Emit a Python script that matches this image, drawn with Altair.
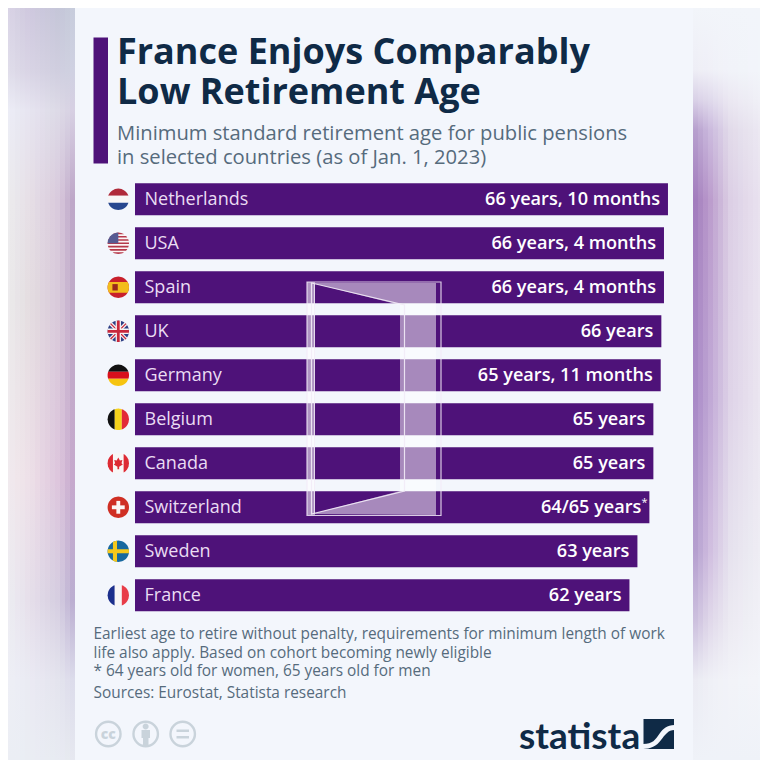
import math
import altair as alt
import pandas as pd

# ---------- chart data ----------
countries = ["Netherlands", "USA", "Spain", "UK", "Germany", "Belgium", "Canada",
             "Switzerland", "Sweden", "France"]
ages = [66.83, 66.33, 66.33, 66.0, 65.92, 65.0, 65.0, 64.5, 63.0, 62.0]
labels = ["66 years, 10 months", "66 years, 4 months", "66 years, 4 months", "66 years",
          "65 years, 11 months", "65 years", "65 years", "64/65 years", "63 years", "62 years"]

title_lines = ["France Enjoys Comparably", "Low Retirement Age"]
subtitle_lines = ["Minimum standard retirement age for public pensions",
                  "in selected countries (as of Jan. 1, 2023)"]
note_lines = ["Earliest age to retire without penalty, requirements for minimum length of work",
              "life also apply. Based on cohort becoming newly eligible",
              "* 64 years old for women, 65 years old for men",
              "Sources: Eurostat, Statista research"]

PURPLE = "#4e1279"
NAVY = "#0f2a46"
GREY = "#566b7c"
PANEL = "#f3f6fc"
FONT = "Open Sans"
OFF = 8    # page margin
W = 752    # drawable size of the page

# ---------- blurred backdrop colour tables (image colours) ----------
left_x = [0, 30, 60, 75]
left_y = [0, 70, 110, 200, 300, 480, 600, 680, 768]
left_c = [
    ["#dcd8e8", "#cfc8de", "#c4c6d8", "#c8cddd"],
    ["#e2e0ec", "#d8d3e4", "#cfcedf", "#cfd2e2"],
    ["#eef0f8", "#e6e4f0", "#dcd9e6", "#d6cee2"],
    ["#eef0f1", "#e6dfe6", "#d8c8dc", "#b9a0c4"],
    ["#eeeff0", "#e4dde0", "#d8c8da", "#bba5c5"],
    ["#f2eef0", "#eee0e8", "#dcc4dc", "#c2a4ca"],
    ["#eff1f5", "#e6dfea", "#d4cce0", "#b6a8ce"],
    ["#eff1f7", "#eaeaf3", "#e4e3ee", "#dadaea"],
    ["#eceff5", "#eaedf3", "#e8ebf2", "#e6e8ef"],
]
right_x = [693, 710, 730, 768]
right_y = [0, 70, 100, 130, 200, 400, 550, 620, 680, 768]
right_c = [
    ["#f2f5fa", "#f2f5fa", "#f2f5fa", "#f2f5fa"],
    ["#eeeef6", "#f0f0f7", "#f1f3f9", "#f2f5fa"],
    ["#d8d0e6", "#e0daec", "#ebe8f2", "#f1f2f8"],
    ["#b49ccb", "#cbbade", "#e2dbea", "#eeecf4"],
    ["#9f78bb", "#bb9ccc", "#dccfe5", "#ece7f2"],
    ["#a585c4", "#c0a8d6", "#dfd4e8", "#eeeaf3"],
    ["#b09acc", "#d0bee0", "#e6e2ee", "#f0f0f6"],
    ["#c8bcdc", "#e0d8ea", "#eceaf2", "#f2f3f8"],
    ["#eaeaf3", "#eff0f6", "#f2f3f8", "#f3f5fa"],
    ["#eff2f8", "#eff2f8", "#eff2f8", "#eff2f8"],
]


def hx(c):
    return [int(c[i:i + 2], 16) for i in (1, 3, 5)]


def mix(xs, row, x):
    for i in range(len(xs) - 1):
        if xs[i] <= x <= xs[i + 1]:
            f = (x - xs[i]) / (xs[i + 1] - xs[i])
            a, b = hx(row[i]), hx(row[i + 1])
            return "#%02x%02x%02x" % tuple(round(p + (q - p) * f) for p, q in zip(a, b))
    return row[-1]


def side(xs, ys, table, x0, x1, step=5):
    out = []
    x = x0
    while x < x1:
        stops = []
        for y, r in zip(ys, table):
            off = min(max((y - OFF) / W, 0), 1)
            stops.append(alt.GradientStop(color=mix(xs, r, x + step / 2), offset=off))
        out.append(
            alt.Chart().mark_rect(
                color=alt.LinearGradient(gradient="linear", stops=stops, x1=0, x2=0, y1=0, y2=1)
            ).encode(x=alt.value(max(x - OFF, 0)), x2=alt.value(min(x + step + 1 - OFF, min(x1 - OFF, W))),
                     y=alt.value(0), y2=alt.value(W))
        )
        x += step
    return out


# ---------- helpers ----------
def text(line, x, y, size, color, weight=400, font=FONT, align="left"):
    return alt.Chart().mark_text(text=line, font=font, fontSize=size, fontWeight=weight, color=color,
                                 align=align, baseline="alphabetic").encode(
        x=alt.value(x - OFF), y=alt.value(y - OFF))


def shape(path, fill=None, stroke=None, sw=1.0, opacity=1.0):
    # path written in image pixels: size 4 makes one path unit one pixel
    kw = dict(shape=path, opacity=opacity)
    if fill:
        kw.update(filled=True, fill=fill, strokeWidth=0)
    else:
        kw.update(filled=False, stroke=stroke, strokeWidth=sw, fillOpacity=0)
    return alt.Chart().mark_point(**kw).encode(x=alt.value(-OFF), y=alt.value(-OFF), size=alt.value(4))


def poly(pts):
    return "M" + " L".join(f"{x:.3f},{y:.3f}" for x, y in pts) + " Z"


def hband(a, b, n=14):
    ys = [a + (b - a) * i / n for i in range(n + 1)]
    right = [(math.sqrt(max(1 - y * y, 0)), y) for y in ys]
    left = [(-x, y) for x, y in reversed(right)]
    return poly(right + left)


def vband(a, b, n=14):
    xs = [a + (b - a) * i / n for i in range(n + 1)]
    low = [(x, math.sqrt(max(1 - x * x, 0))) for x in xs]
    up = [(x, -y) for x, y in reversed(low)]
    return poly(low + up)


DISC = hband(-1, 1, 30)
CANTON = poly([(0, 0)] + [(-math.sin(k * math.pi / 24), -math.cos(k * math.pi / 24)) for k in range(13)])


def box(x0, y0, x1, y1):
    return f"M{x0},{y0} L{x1},{y0} L{x1},{y1} L{x0},{y1} Z"


def diag(x0, y0, x1, y1, w):
    dx, dy = x1 - x0, y1 - y0
    n = math.hypot(dx, dy)
    ox, oy = -dy / n * w / 2, dx / n * w / 2
    return poly([(x0 + ox, y0 + oy), (x1 + ox, y1 + oy), (x1 - ox, y1 - oy), (x0 - ox, y0 - oy)])


usa = [("#fbf5f5", DISC)]
for i in range(7):
    a = -1 + i * 2 / 6.5
    usa.append(("#b5384a", hband(a, min(a + 2 / 13, 1), 4)))
usa.append(("#565a92", CANTON))

flags = {
    "Netherlands": [("#b02a3a", hband(-1, -0.33)), ("#f8f6f6", hband(-0.33, 0.33)), ("#27478f", hband(0.33, 1))],
    "USA": usa,
    "Spain": [("#c8202c", DISC), ("#f3bd1c", hband(-0.5, 0.5)), ("#9a2a1c", box(-0.55, -0.3, -0.05, 0.3))],
    "UK": [("#2d3f85", DISC),
           ("#f7f3f3", diag(-0.72, -0.72, 0.72, 0.72, 0.34)), ("#f7f3f3", diag(-0.72, 0.72, 0.72, -0.72, 0.34)),
           ("#c8283c", diag(-0.72, -0.72, 0.72, 0.72, 0.12)), ("#c8283c", diag(-0.72, 0.72, 0.72, -0.72, 0.12)),
           ("#f7f3f3", vband(-0.25, 0.25)), ("#f7f3f3", hband(-0.25, 0.25)),
           ("#c8283c", vband(-0.13, 0.13)), ("#c8283c", hband(-0.13, 0.13))],
    "Germany": [("#111111", hband(-1, -0.33)), ("#d8101c", hband(-0.33, 0.33)), ("#f6c410", hband(0.33, 1))],
    "Belgium": [("#111111", vband(-1, -0.33)), ("#f6d21c", vband(-0.33, 0.33)), ("#e22a38", vband(0.33, 1))],
    "Canada": [("#f8f6f6", DISC), ("#dd2a34", vband(-1, -0.5)), ("#dd2a34", vband(0.5, 1)),
               ("#dd2a34", "M0,-0.55 L0.15,-0.25 L0.38,-0.3 L0.3,0 L0.42,0.12 L0.08,0.32 L0.08,0.55 L-0.08,0.55 L-0.08,0.32 L-0.42,0.12 L-0.3,0 L-0.38,-0.3 L-0.15,-0.25 Z")],
    "Switzerland": [("#cf2f24", DISC), ("#fbf6f4", box(-0.18, -0.6, 0.18, 0.6)), ("#fbf6f4", box(-0.6, -0.18, 0.6, 0.18))],
    "Sweden": [("#17689f", DISC), ("#f4c81c", vband(-0.5, -0.12)), ("#f4c81c", hband(-0.18, 0.18))],
    "France": [("#1c2f8c", vband(-1, -0.33)), ("#f8f6f6", vband(-0.33, 0.33)), ("#e83c48", vband(0.33, 1))],
}

flag_rows = []
for c in countries:
    for k, (col, p) in enumerate(flags[c]):
        flag_rows.append({"country": c, "part": k, "color": col, "path": p})
flag_df = pd.DataFrame(flag_rows)

bars = pd.DataFrame({"country": countries, "age": ages, "label": labels})

PX_PER_YEAR = 7.975
BAR_LEFT = 135 - OFF
xscale = alt.Scale(domain=[-BAR_LEFT / PX_PER_YEAR, (W - BAR_LEFT) / PX_PER_YEAR], nice=False, zero=False)
yscale = alt.Scale(domain=countries, range=[183.3 - 6 - OFF, 183.3 - 6 - OFF + 440],
                   paddingInner=12 / 44, paddingOuter=6 / 44)
X = alt.X("age:Q", scale=xscale, axis=None)
Y = alt.Y("country:N", scale=yscale, axis=None)

layers = []
# backdrop
layers += side(left_x, left_y, left_c, 0, 75)
layers += side(right_x, right_y, right_c, 693, 768)
layers.append(alt.Chart().mark_rect(color=PANEL).encode(
    x=alt.value(75 - OFF), x2=alt.value(693 - OFF), y=alt.value(0), y2=alt.value(W)))

# header
layers.append(alt.Chart().mark_rect(color=PURPLE).encode(
    x=alt.value(93.5 - OFF), x2=alt.value(108 - OFF), y=alt.value(37.5 - OFF), y2=alt.value(163.5 - OFF)))
for line, yy in zip(title_lines, [63.5, 104]):
    layers.append(text(line, 117, yy, 36, NAVY, 700))
for line, yy in zip(subtitle_lines, [139.5, 164]):
    layers.append(text(line, 117, yy, 20.2, GREY))

# bars
layers.append(alt.Chart(bars).mark_bar(color=PURPLE).encode(x=X, y=Y))
layers.append(alt.Chart(bars).mark_text(align="left", baseline="middle", font=FONT, fontSize=18,
                                        color="#eadcf3", dy=0.5).encode(
    x=alt.value(144.5 - OFF), y=Y, text="country:N"))
layers.append(alt.Chart(bars).mark_text(align="right", baseline="middle", font=FONT, fontSize=18.1,
                                        fontWeight=600, color="#ffffff", dx=-8, dy=0.5).encode(
    x=X, y=Y, text="label:N"))
layers.append(alt.Chart(bars[bars.country == "Switzerland"]).mark_text(
    align="left", baseline="middle", font=FONT, fontSize=11, color="#ffffff", dx=-8, dy=-4, text="*").encode(x=X, y=Y))

# flags: one layer per drawing order
for _, grp in flag_df.groupby("part", sort=True):
    layers.append(alt.Chart(grp).mark_point(filled=True, opacity=1, strokeWidth=0).encode(
        x=alt.value(118.3 - OFF), y=Y, size=alt.value(4 * 10.7 ** 2),
        shape=alt.Shape("path:N", scale=None),
        fill=alt.Fill("color:N", scale=None)))

# door icon
door_fill = "M312,283 L436,283 L436,515 L312,514 L400,491 L400,305 Z"
layers.append(shape(door_fill, fill="#ffffff", opacity=0.5))
layers.append(shape(box(307, 282, 315, 515), fill="#ffffff", opacity=0.55))
layers.append(shape(box(307, 282, 441, 515.5), stroke="#f3ecf8", sw=1.2, opacity=0.85))
layers.append(shape("M311.5,283 L404.5,305 L404.5,491 L311.5,514 Z", stroke="#f3ecf8", sw=1.2, opacity=0.9))
layers.append(shape("M314.5,284 L314.5,513", stroke="#f3ecf8", sw=1, opacity=0.8))

# notes
for line, yy in zip(note_lines, [639, 657.5, 676, 697.5]):
    layers.append(text(line, 93.5, yy, 15.4, GREY))

# licence icons
ICON = "#c9d3db"
for cx in [108.3, 145.7, 182.7]:
    layers.append(alt.Chart().mark_point(shape="circle", filled=False, stroke=ICON, strokeWidth=2.4, opacity=1).encode(
        x=alt.value(cx - OFF), y=alt.value(734 - OFF), size=alt.value(math.pi * 13.8 ** 2)))
layers.append(text("cc", 108.3, 739, 14, ICON, 800, align="center"))
layers.append(shape("M145.7,723.5 A3 3 0 1 1 145.6,723.5 Z M141.5,730 L150,730 L150,738 L148.5,738 L148.5,745 L143,745 L143,738 L141.5,738 Z", fill=ICON))
layers.append(shape(box(176.5, 729.5, 189, 732) + " " + box(176.5, 736, 189, 738.5), fill=ICON))

# logo
layers.append(text("statista", 519, 748.5, 37, NAVY, 700, font="Lato"))
layers.append(shape(box(643.5, 719, 674, 749), fill=NAVY))
layers.append(shape("M643,744 C653,744 655,740 660,733 C663,729 667,725 674.5,725 L674.5,730 C668,730 665,735 661,740 C657,746 650,749 643,749 Z",
                    fill=PANEL))

chart = alt.layer(*layers).properties(
    width=W, height=W, padding=0,
    autosize=alt.AutoSizeParams(type="none"),
    background=PANEL,
).configure_view(stroke=None)

chart.save("out.html", embed_options={"renderer": "svg", "actions": False})
